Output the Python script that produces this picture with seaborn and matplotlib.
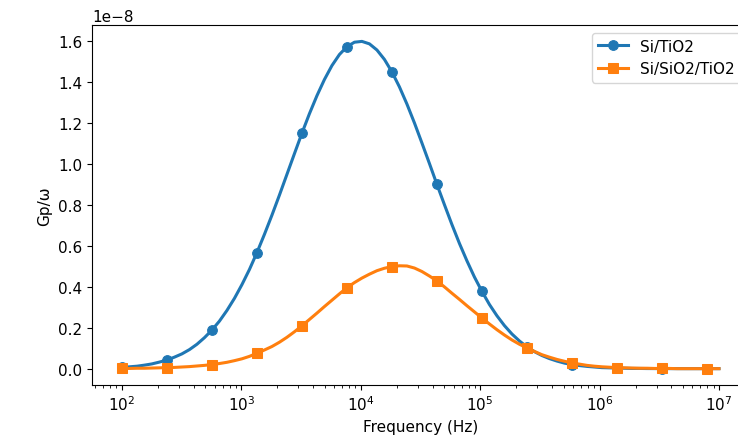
import numpy as np
import pandas as pd
import matplotlib
matplotlib.use("Agg")
import matplotlib.pyplot as plt
import seaborn as sb


# Frequency grid (Hz)
freq = [
    100, 116, 134, 154, 178, 206, 238, 275, 318, 368,
    425, 491, 567, 656, 758, 876, 1012, 1170, 1351, 1561,
    1805, 2086, 2410, 2785, 3218, 3719, 4298, 4967, 5740, 6633,
    7664, 8857, 10235, 11828, 13670, 15797, 18250, 21090, 24380, 28174,
    32550, 37615, 43470, 50234, 58050, 67083, 77530, 89594, 103530, 119640,
    138260, 159770, 184650, 213380, 246600, 284970, 329300, 380540, 439800, 508230,
    587300, 678680, 784300, 906340, 1047400, 1210400, 1398800, 1616500, 1868000, 2158700,
    2494700, 2882900, 3331500, 3849900, 4449100, 5141400, 5941700, 6866200, 7934900, 10000000,
]

# Gp/omega in units of 1e-8
gp_si_tio2 = [
    0.006, 0.009, 0.012, 0.017, 0.023, 0.032, 0.042, 0.056, 0.072, 0.093,
    0.119, 0.151, 0.188, 0.232, 0.284, 0.343, 0.410, 0.484, 0.566, 0.655,
    0.749, 0.847, 0.948, 1.049, 1.149, 1.244, 1.332, 1.411, 1.479, 1.533,
    1.571, 1.593, 1.597, 1.585, 1.555, 1.509, 1.448, 1.375, 1.291, 1.199,
    1.101, 1.001, 0.899, 0.800, 0.703, 0.611, 0.526, 0.447, 0.377, 0.313,
    0.258, 0.210, 0.169, 0.135, 0.106, 0.083, 0.064, 0.049, 0.037, 0.027,
    0.020, 0.015, 0.011, 0.008, 0.005, 0.004, 0.003, 0.002, 0.001, 0.001,
    0.0005, 0.0003, 0.0002, 0.0001, 0.0001, 0.0, 0.0, 0.0, 0.0, 0.0,
]

gp_si_sio2_tio2 = [
    0.001, 0.001, 0.002, 0.002, 0.003, 0.004, 0.005, 0.006, 0.008, 0.010,
    0.013, 0.016, 0.020, 0.025, 0.031, 0.039, 0.048, 0.060, 0.075, 0.091,
    0.108, 0.129, 0.153, 0.180, 0.209, 0.240, 0.271, 0.303, 0.334, 0.365,
    0.395, 0.420, 0.442, 0.461, 0.478, 0.490, 0.498, 0.502, 0.501, 0.491,
    0.474, 0.452, 0.428, 0.399, 0.368, 0.338, 0.307, 0.277, 0.247, 0.218,
    0.190, 0.164, 0.140, 0.119, 0.101, 0.084, 0.068, 0.056, 0.045, 0.036,
    0.028, 0.022, 0.016, 0.012, 0.009, 0.007, 0.005, 0.004, 0.003, 0.002,
    0.002, 0.001, 0.001, 0.001, 0.0, 0.0, 0.0, 0.0, 0.0, 0.0,
]

df = pd.DataFrame({
    "freq": freq,
    "si_tio2": np.array(gp_si_tio2) * 1e-8,
    "si_sio2_tio2": np.array(gp_si_sio2_tio2) * 1e-8,
})


fig = plt.figure(figsize=(7.38, 4.39), dpi=100)
ax = fig.add_axes([0.1247, 0.1207, 0.890, 0.820])

sb.lineplot(data=df, x="freq", y="si_tio2", ax=ax, estimator=None,
            color="#1f77b4", linewidth=2.2, marker="o", markersize=7,
            markeredgecolor="#1f77b4", markevery=6, label="Si/TiO2")
sb.lineplot(data=df, x="freq", y="si_sio2_tio2", ax=ax, estimator=None,
            color="#ff7f0e", linewidth=2.2, marker="s", markersize=7,
            markeredgecolor="#ff7f0e", markevery=6, label="Si/SiO2/TiO2")

ax.set_xscale("log")
ax.set_xlabel("Frequency (Hz)", fontsize=11)
ax.set_ylabel("Gp/\u03c9", fontsize=11)
ax.tick_params(labelsize=11)
ax.yaxis.get_offset_text().set_fontsize(11)
ax.legend(loc="upper right", fontsize=11)

fig.savefig("out.png", dpi=100)
